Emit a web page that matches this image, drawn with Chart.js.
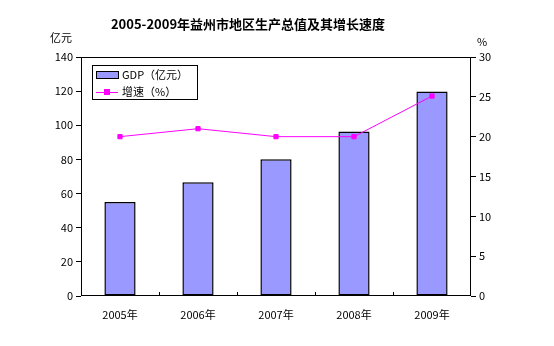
<!DOCTYPE html>
<html>
<head>
<meta charset="utf-8">
<script src="https://cdn.jsdelivr.net/npm/chart.js@4"></script>
<style>
  html, body { margin: 0; padding: 0; background: #fff; }
  #wrap { width: 554px; height: 346px; position: relative; }
</style>
</head>
<body>
<div id="wrap"><canvas id="c" width="554" height="346"></canvas></div>
<script>
'use strict';

const YEARS = ['2005年', '2006年', '2007年', '2008年', '2009年'];
const GDP = [55, 66.6, 80.1, 96.3, 119.8];
const GROWTH = [20.0, 21.0, 20.0, 20.0, 25.1];
const LEFT_TICKS = [0, 20, 40, 60, 80, 100, 120, 140];
const RIGHT_TICKS = [0, 5, 10, 15, 20, 25, 30];

const TITLE = '2005-2009年益州市地区生产总值及其增长速度';
const FONT = '"Noto Sans CJK SC", "Liberation Sans", sans-serif';
const BAR_COLOR = '#9999ff';
const LINE_COLOR = '#ff00ff';

/* ── extras: title, units, frame, x ticks, legend ── */
const extras = {
  id: 'extras',
  afterDraw(chart) {
    const { ctx, chartArea: a, scales } = chart;
    ctx.save();
    ctx.fillStyle = '#000';
    ctx.textBaseline = 'middle';

    ctx.font = `bold 13px ${FONT}`;
    ctx.textAlign = 'center';
    ctx.fillText(TITLE, 248, 24);

    ctx.font = `11px ${FONT}`;
    ctx.textAlign = 'left';
    ctx.fillText('亿元', 50, 38);
    ctx.fillText('%', 477, 42);

    // frame
    ctx.strokeStyle = '#000';
    ctx.lineWidth = 1;
    ctx.strokeRect(Math.round(a.left) + 0.5, Math.round(a.top) + 0.5,
      Math.round(a.right - a.left) - 1, Math.round(a.bottom - a.top) - 1);

    // category separators, pointing inward
    const x = scales.x;
    ctx.beginPath();
    for (let i = 1; i < YEARS.length; i++) {
      const px = Math.round((x.getPixelForValue(i - 1) + x.getPixelForValue(i)) / 2) + 0.5;
      ctx.moveTo(px, a.bottom);
      ctx.lineTo(px, a.bottom - 4);
    }
    ctx.stroke();

    // legend
    ctx.fillStyle = '#fff';
    ctx.fillRect(92, 65, 105, 34);
    ctx.strokeRect(92.5, 65.5, 105, 34);

    ctx.fillStyle = BAR_COLOR;
    ctx.fillRect(96, 71, 22, 7);
    ctx.strokeRect(96.5, 71.5, 22, 7);

    ctx.strokeStyle = LINE_COLOR;
    ctx.beginPath();
    ctx.moveTo(96, 92.5);
    ctx.lineTo(118, 92.5);
    ctx.stroke();
    ctx.fillStyle = LINE_COLOR;
    ctx.fillRect(104, 89, 6, 6);

    ctx.fillStyle = '#000';
    ctx.font = `11px ${FONT}`;
    ctx.fillText('GDP（亿元）', 122, 75);
    ctx.fillText('增速（%）', 122, 92);
    ctx.restore();
  }
};

new Chart(document.getElementById('c'), {
  type: 'bar',
  data: {
    labels: YEARS,
    datasets: [
      {
        type: 'line',
        label: '增速（%）',
        data: GROWTH,
        yAxisID: 'y1',
        borderColor: LINE_COLOR,
        backgroundColor: LINE_COLOR,
        borderWidth: 1,
        pointStyle: 'rect',
        pointRadius: 3,
        tension: 0,
        order: 0,
      },
      {
        label: 'GDP（亿元）',
        data: GDP,
        yAxisID: 'y',
        backgroundColor: BAR_COLOR,
        borderColor: '#000',
        borderWidth: 1.5,
        borderSkipped: false,
        barPercentage: 0.4,
        categoryPercentage: 1,
        order: 1,
      },
    ],
  },
  options: {
    responsive: false,
    animation: false,
    layout: { padding: { top: 57, left: 0, right: 0, bottom: 0 } },
    plugins: { legend: { display: false }, tooltip: { enabled: false } },
    scales: {
      x: {
        grid: { display: false },
        border: { display: false },
        ticks: { color: '#000', font: { family: FONT, size: 11 }, padding: 4, maxRotation: 0 },
        afterFit: s => { s.height = 50; },
      },
      y: {
        position: 'left',
        min: 0, max: 140,
        afterBuildTicks: s => { s.ticks = LEFT_TICKS.map(v => ({ value: v })); },
        grid: { drawOnChartArea: false, color: '#000', tickLength: 5 },
        border: { display: false },
        ticks: { color: '#000', font: { family: FONT, size: 11 }, padding: 3 },
        afterFit: s => { s.width = 81; },
      },
      y1: {
        position: 'right',
        min: 0, max: 30,
        afterBuildTicks: s => { s.ticks = RIGHT_TICKS.map(v => ({ value: v })); },
        grid: { drawOnChartArea: false, color: '#000', tickLength: 5 },
        border: { display: false },
        ticks: { color: '#000', font: { family: FONT, size: 11 }, padding: 3 },
        afterFit: s => { s.width = 83; },
      },
    },
  },
  plugins: [extras],
});
</script>
</body>
</html>
